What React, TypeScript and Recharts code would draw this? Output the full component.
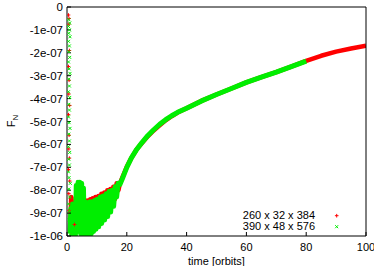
import React from 'react';
import { ComposedChart, Line, Scatter, XAxis, YAxis, Label } from 'recharts';

// axis ticks
const xTicks = [0, 20, 40, 60, 80, 100];
const yTicks = [0, -1e-7, -2e-7, -3e-7, -4e-7, -5e-7, -6e-7, -7e-7, -8e-7, -9e-7, -1e-6];
const yTickLabels = ['0', '-1e-07', '-2e-07', '-3e-07', '-4e-07', '-5e-07', '-6e-07', '-7e-07', '-8e-07', '-9e-07', '-1e-06'];
const seriesNames = ['260 x 32 x 384', '390 x 48 x 576'];

// 260 x 32 x 384 : [time, F_N]
const redColumn: [number, number][] = [
  [0.5, -0.35e-7], [0.7, -0.5e-7], [0.6, -0.75e-7], [0.8, -1.9e-7], [0.5, -2.6e-7], [0.7, -3.2e-7],
  [0.6, -3.8e-7], [0.9, -4.3e-7], [0.5, -4.7e-7], [0.7, -5.6e-7], [0.6, -6.2e-7], [0.8, -6.6e-7],
  [0.5, -7.1e-7], [0.9, -7.6e-7], [0.6, -8.15e-7], [1.2, -8.3e-7], [0.7, -8.9e-7], [2.5, -9.5e-7],
];
const redNoise: [number, number][] = [
  [1.1, -9.6e-7], [1.4, -8.3e-7], [1.8, -9.9e-7], [2.2, -8.9e-7], [2.6, -10e-7], [3.0, -8.3e-7],
  [3.4, -9.8e-7], [3.8, -7.9e-7], [4.2, -9.5e-7], [4.6, -7.9e-7], [5.0, -9.7e-7], [5.4, -8.1e-7],
  [5.8, -9.9e-7], [6.2, -8.45e-7], [6.6, -9.9e-7], [7.0, -8.45e-7], [7.4, -9.8e-7], [7.8, -8.4e-7],
  [8.2, -9.7e-7], [8.6, -8.35e-7], [9.0, -9.6e-7], [9.5, -8.3e-7], [10, -9.5e-7], [10.5, -8.25e-7],
  [11, -9.4e-7], [11.5, -8.15e-7], [12, -9.25e-7], [12.5, -8.1e-7], [13, -9.1e-7], [13.5, -8.0e-7],
  [14, -8.9e-7], [14.5, -7.95e-7], [15, -8.7e-7], [15.5, -7.85e-7], [16, -8.4e-7], [16.6, -7.7e-7],
  [17.2, -8.0e-7], [17.7, -7.7e-7],
];
const redTrend: [number, number][] = [
  [18.5, -7.45e-7], [20, -6.98e-7], [21.5, -6.6e-7], [23.3, -6.22e-7], [25, -5.95e-7], [27, -5.65e-7],
  [28.9, -5.4e-7], [31, -5.17e-7], [33, -4.95e-7], [35, -4.77e-7], [37, -4.61e-7], [40, -4.42e-7],
  [45, -4.1e-7], [50, -3.82e-7], [55, -3.56e-7], [60, -3.29e-7], [65, -3.06e-7], [70, -2.84e-7],
  [75, -2.6e-7], [80, -2.35e-7], [85, -2.13e-7], [90, -1.95e-7], [95, -1.81e-7], [100, -1.69e-7],
];

// 390 x 48 x 576 : [time, F_N]
const greenColumn: [number, number][] = [
  [0.6, -0.55e-7], [0.9, -0.7e-7], [0.5, -0.85e-7], [0.8, -1.0e-7], [0.6, -1.15e-7], [1.0, -1.3e-7],
  [0.5, -1.5e-7], [0.8, -1.7e-7], [0.6, -1.95e-7], [0.9, -2.2e-7], [0.5, -2.4e-7], [0.7, -2.7e-7],
  [1.0, -2.9e-7], [0.6, -3.15e-7], [0.8, -3.45e-7], [0.5, -3.7e-7], [0.9, -3.95e-7], [0.6, -4.25e-7],
  [0.8, -4.5e-7], [0.5, -4.8e-7], [0.7, -5.05e-7], [1.0, -5.3e-7], [0.6, -5.55e-7], [0.8, -5.85e-7],
  [0.5, -6.1e-7], [0.9, -6.35e-7], [0.6, -6.65e-7], [0.8, -6.9e-7], [0.5, -7.2e-7], [0.7, -7.45e-7],
  [1.1, -7.7e-7], [0.6, -7.95e-7], [0.9, -8.3e-7], [0.5, -8.6e-7], [0.8, -8.9e-7], [0.6, -9.3e-7],
  [0.9, -9.6e-7],
];
const greenNoise: [number, number][] = [
  [1.0, -9.9e-7], [1.3, -8.8e-7], [1.6, -10e-7], [1.9, -8.6e-7], [2.2, -10e-7], [2.5, -8.7e-7],
  [2.8, -10e-7], [3.1, -7.8e-7], [3.4, -9.7e-7], [3.7, -7.65e-7], [4.0, -9.8e-7], [4.3, -7.65e-7],
  [4.6, -9.9e-7], [4.9, -7.7e-7], [5.2, -9.8e-7], [5.5, -7.9e-7], [5.8, -10e-7], [6.1, -8.5e-7],
  [6.5, -10e-7], [6.9, -8.55e-7], [7.3, -10e-7], [7.7, -8.5e-7], [8.1, -9.9e-7], [8.5, -8.5e-7],
  [8.9, -9.8e-7], [9.3, -8.45e-7], [9.7, -9.7e-7], [10.1, -8.4e-7], [10.6, -9.6e-7], [11.1, -8.3e-7],
  [11.6, -9.45e-7], [12.1, -8.25e-7], [12.6, -9.3e-7], [13.1, -8.15e-7], [13.6, -9.15e-7], [14.1, -8.05e-7],
  [14.6, -8.95e-7], [15.1, -8.0e-7], [15.6, -8.7e-7], [16.1, -7.85e-7], [16.6, -8.3e-7], [17.1, -7.7e-7],
  [17.7, -7.75e-7],
];
const greenTrend: [number, number][] = [
  [18.5, -7.5e-7], [20, -7.0e-7], [21.5, -6.6e-7], [23.3, -6.22e-7], [25, -5.93e-7], [27, -5.62e-7],
  [28.9, -5.37e-7], [31, -5.12e-7], [33, -4.92e-7], [35, -4.75e-7], [37, -4.6e-7], [40, -4.42e-7],
  [45, -4.1e-7], [50, -3.82e-7], [55, -3.56e-7], [60, -3.29e-7], [65, -3.06e-7], [70, -2.84e-7],
  [75, -2.6e-7], [80, -2.36e-7],
];

const RED = '#ff0000';
const GREEN = '#00ee00';
const FONT = '"Liberation Sans", Arial, sans-serif';

const toPts = (arr: [number, number][]) => arr.map(([t, f]) => ({ t, f }));

const yFmt = (v: number) => {
  const i = yTicks.findIndex((y) => Math.abs(y - v) < 1e-12);
  return i >= 0 ? yTickLabels[i] : '';
};

const PlusMark = (p: any) => (
  <path d={`M${p.cx - 1.8},${p.cy}h3.6M${p.cx},${p.cy - 1.8}v3.6`} stroke={RED} strokeWidth={1} fill="none" />
);
const CrossMark = (p: any) => (
  <path d={`M${p.cx - 1.5},${p.cy - 1.5}l3,3M${p.cx - 1.5},${p.cy + 1.5}l3,-3`} stroke={GREEN} strokeWidth={1} fill="none" />
);

const App = () => {
  return (
    <div style={{ position: 'absolute', left: 0, top: 0, width: 374, height: 266, fontFamily: FONT, background: '#fff' }}>
      <ComposedChart width={374} height={266} margin={{ top: 3, right: 4, bottom: 0, left: 7 }}>
        <XAxis
          type="number"
          dataKey="t"
          domain={[0, 100]}
          ticks={xTicks}
          interval={0}
          allowDataOverflow
          height={30}
          tickSize={-4}
          tickMargin={11}
          stroke="#000"
          tick={{ fill: '#000', fontSize: 11, fontFamily: FONT }}
        >
          <Label
            content={() => (
              <text x={216.5} y={265} textAnchor="middle" fontSize={11} fontFamily={FONT} fill="#000">
                time [orbits]
              </text>
            )}
          />
        </XAxis>
        <XAxis
          xAxisId="top"
          orientation="top"
          type="number"
          dataKey="t"
          domain={[0, 100]}
          ticks={xTicks}
          interval={0}
          allowDataOverflow
          height={4}
          tickSize={-4}
          tick={false}
          stroke="#000"
        />
        <YAxis
          type="number"
          domain={[-1e-6, 0]}
          ticks={yTicks}
          interval={0}
          allowDataOverflow
          width={60}
          tickSize={-4}
          tickMargin={8}
          tickFormatter={yFmt}
          stroke="#000"
          tick={{ fill: '#000', fontSize: 11.5, fontFamily: FONT }}
        >
          <Label
            content={() => (
              <text x={15} y={121} transform="rotate(-90 15 121)" textAnchor="middle" fontSize={11} fontFamily={FONT} fill="#000">
                F<tspan fontSize={8} dy={3}>N</tspan>
              </text>
            )}
          />
        </YAxis>
        <YAxis
          yAxisId="right"
          orientation="right"
          type="number"
          domain={[-1e-6, 0]}
          ticks={yTicks}
          interval={0}
          allowDataOverflow
          width={4}
          tickSize={-4}
          tick={false}
          stroke="#000"
        />
        <Scatter data={toPts(redColumn)} dataKey="f" shape={PlusMark} isAnimationActive={false} />
        <Line
          data={toPts([...redNoise, ...redTrend])}
          dataKey="f"
          type="linear"
          stroke={RED}
          strokeWidth={4.5}
          strokeLinejoin="round"
          dot={false}
          activeDot={false}
          isAnimationActive={false}
        />
        <Scatter data={toPts(greenColumn)} dataKey="f" shape={CrossMark} isAnimationActive={false} />
        <Line
          data={toPts([...greenNoise, ...greenTrend])}
          dataKey="f"
          type="linear"
          stroke={GREEN}
          strokeWidth={5}
          strokeLinejoin="round"
          dot={false}
          activeDot={false}
          isAnimationActive={false}
        />
      </ComposedChart>
      <div
        style={{
          position: 'absolute',
          left: 195,
          top: 210,
          width: 120,
          textAlign: 'right',
          fontSize: 11,
          lineHeight: '11px',
          color: '#000',
        }}
      >
        <div>{seriesNames[0]}</div>
        <div>{seriesNames[1]}</div>
      </div>
      <svg style={{ position: 'absolute', left: 330, top: 210 }} width={14} height={24}>
        <PlusMark cx={6.7} cy={5.7} />
        <CrossMark cx={6.7} cy={16.7} />
      </svg>
    </div>
  );
};

export default App;
